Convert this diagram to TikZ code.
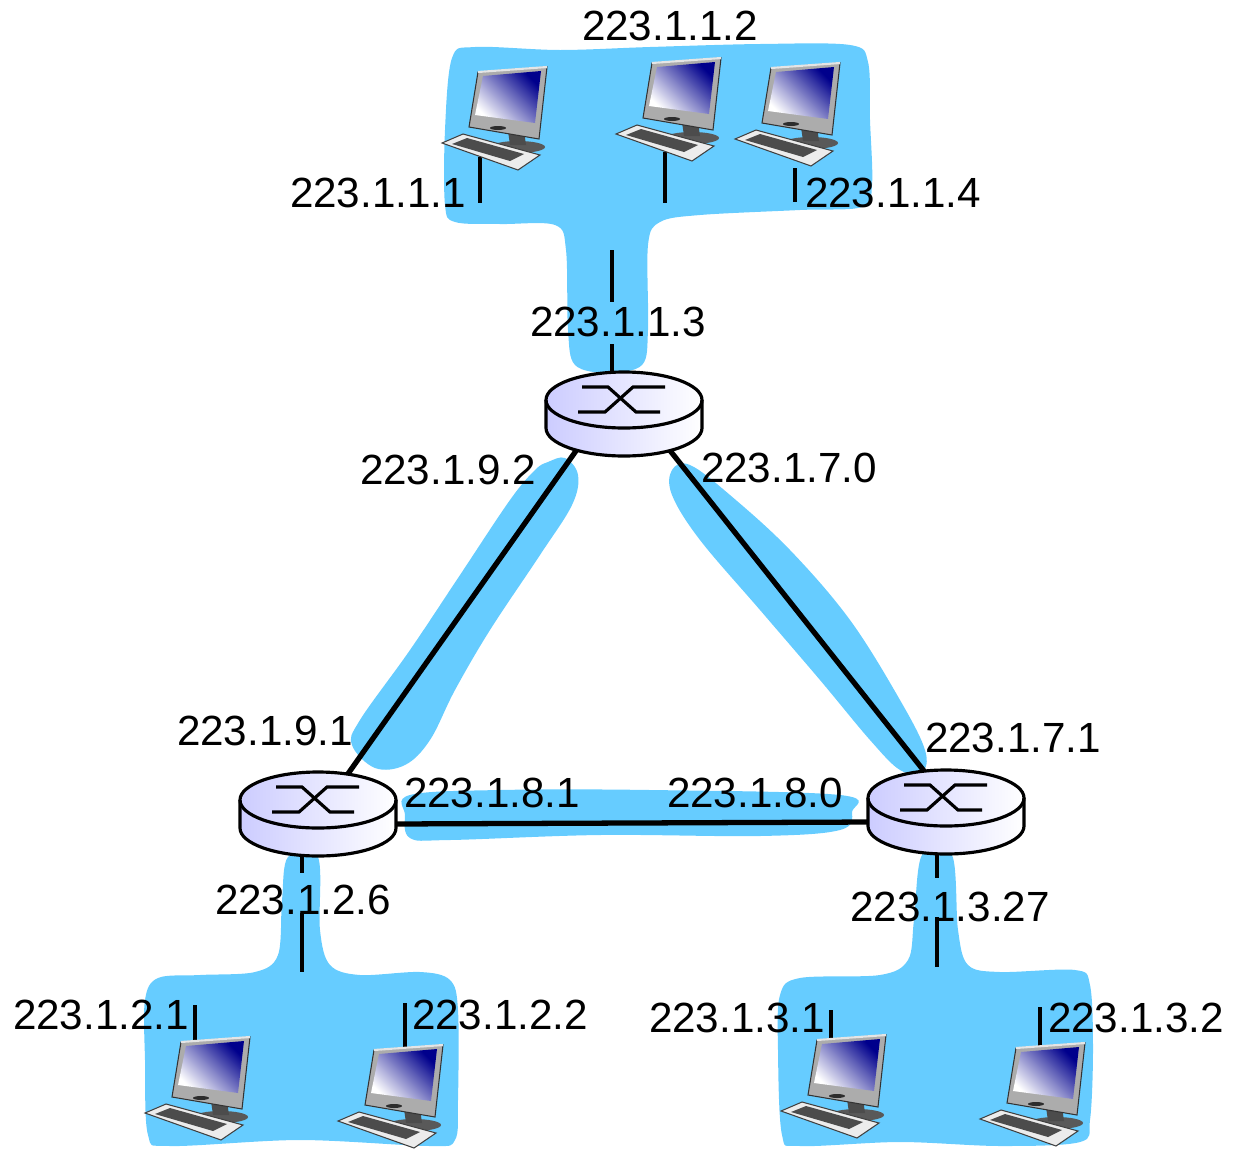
\documentclass[tikz,border=0pt]{standalone}
\usepackage{fontspec}
\setmainfont{Liberation Sans}
\usetikzlibrary{calc}
\definecolor{lanblue}{RGB}{102,204,255}
\tikzset{
  lan/.style={fill=lanblue, draw=none},
  addr/.style={font=\fontsize{12}{14}\selectfont, inner sep=0pt},
  link/.style={line width=1.5pt},
  stub/.style={line width=1pt},
  pc/.pic={
    \fill[gray!70!black] (78,82) ellipse[x radius=27, y radius=6];
    \fill[gray!60!black] (68,66) -- (84,66) -- (86,80) -- (70,80) -- cycle;
    \draw[gray!40!black, fill=gray!65, line width=0.3pt] (38,7) -- (107,2) -- (99,74) -- (29,62) -- cycle;
    \draw[gray!20, line width=0.6pt] (38,7) -- (107,2);
    \shade[top color=white, middle color=blue!20!white, bottom color=blue!55!black, shading angle=135] (43,11) -- (101,6) -- (95,58) -- (35,50) -- cycle;
    \fill[gray!35!black] (58,63) ellipse[x radius=8, y radius=2];
    \draw[gray!50!black, fill=gray!15, line width=0.3pt] (2,78) -- (23,69) -- (100,90) -- (78,105) -- cycle;
    \fill[gray!60!black] (12,79) -- (27,73) -- (84,89) -- (70,96) -- cycle;
  },
  router/.pic={
    \shade[left color=blue!20, right color=white] (-78,0) -- (-78,28) arc[start angle=180, end angle=0, x radius=78, y radius=28] -- (78,0) arc[start angle=0, end angle=-180, x radius=78, y radius=28] -- cycle;
    \draw[line width=0.9pt] (-78,0) -- (-78,28) arc[start angle=180, end angle=0, x radius=78, y radius=28] -- (78,0);
    \draw[line width=0.9pt] (0,0) ellipse[x radius=78, y radius=28];
    \draw[line width=0.9pt] (-42,-13) -- (-16,-13) -- (12,12) -- (36,12);
    \draw[line width=0.9pt] (-46,12) -- (-19,12) -- (9,-13) -- (41,-13);
  }
}
\begin{document}
\begin{tikzpicture}[x=0.01cm, y=-0.01cm]
\useasboundingbox (0,0) rectangle (1245,1148);
\fill[lan] plot[smooth cycle, tension=0.55] coordinates {(452,58) (475,47) (560,50) (650,47) (760,44) (850,45) (868,62) (870,120) (872,185) (862,207) (800,210) (700,215) (660,222) (648,245) (648,330) (642,365) (608,373) (575,365) (568,330) (566,250) (555,225) (500,224) (455,222) (445,205) (445,130)};
\fill[lan] plot[smooth cycle, tension=0.55] coordinates {(288,857) (318,857) (320,930) (330,965) (360,975) (420,972) (450,980) (458,1010) (458,1100) (455,1140) (430,1146) (300,1140) (170,1146) (148,1135) (145,1060) (145,1000) (158,978) (200,975) (255,972) (278,955) (282,900)};
\fill[lan] plot[smooth cycle, tension=0.55] coordinates {(922,855) (952,855) (958,930) (968,965) (1000,972) (1075,970) (1090,985) (1093,1050) (1090,1120) (1080,1142) (1000,1146) (900,1142) (800,1146) (782,1135) (778,1050) (780,995) (800,978) (880,975) (908,960) (914,920)};
\fill[lan] plot[smooth cycle, tension=0.6] coordinates {(548,462) (565,458) (578,475) (572,505) (540,555) (490,630) (455,690) (430,740) (405,765) (375,768) (352,745) (360,720) (410,650) (460,575) (510,500) (535,470)};
\fill[lan] plot[smooth cycle, tension=0.6] coordinates {(672,470) (690,465) (730,495) (790,550) (850,620) (900,700) (925,750) (922,772) (900,770) (870,740) (820,680) (760,610) (700,540) (672,495)};
\fill[lan] plot[smooth cycle, tension=0.6] coordinates {(410,795) (500,790) (650,790) (840,795) (852,812) (840,830) (760,836) (600,835) (450,840) (410,838) (405,815)};

\coordinate (r1) at (624,400);
\coordinate (r2) at (318,800);
\coordinate (r3) at (946,798);
\coordinate (r1sw) at (578,448);
\coordinate (r1se) at (668,448);
\coordinate (r2n) at (345,778);
\coordinate (r2e) at (392,824);
\coordinate (r3n) at (928,776);
\coordinate (r3w) at (872,822);
\draw[link] (r1sw) -- (r2n);
\draw[link] (r1se) -- (r3n);
\draw[link] (r2e) -- (r3w);

\draw[stub] (612,250) -- (612,302);
\draw[stub] (612,344) -- (612,380);
\draw[stub] (302,850) -- (302,873);
\draw[stub] (302,913) -- (302,972);
\draw[stub] (937,850) -- (937,878);
\draw[stub] (937,917) -- (937,967);
\draw[stub] (480,157) -- (480,203);
\draw[stub] (665,152) -- (665,203);
\draw[stub] (795,168) -- (795,202);
\draw[stub] (195,1005) -- (195,1042);
\draw[stub] (405,1003) -- (405,1050);
\draw[stub] (831,1010) -- (831,1042);
\draw[stub] (1040,1007) -- (1040,1048);

\pic at (r1) {router};
\pic at (r2) {router};
\pic at (r3) {router};

\pic at (440,65) {pc};
\pic at (614,56) {pc};
\pic at (733,61) {pc};
\pic at (143,1035) {pc};
\pic at (336,1043) {pc};
\pic at (779,1033) {pc};
\pic at (978,1041) {pc};

\node[addr] (a112) at (670,26) {223.1.1.2};
\node[addr] (a111) at (378,193) {223.1.1.1};
\node[addr] (a114) at (893,193) {223.1.1.4};
\node[addr] (a113) at (618,322) {223.1.1.3};
\node[addr] (a192) at (448,470) {223.1.9.2};
\node[addr] (a170) at (789,468) {223.1.7.0};
\node[addr] (a191) at (265,731) {223.1.9.1};
\node[addr] (a171) at (1013,738) {223.1.7.1};
\node[addr] (a181) at (492,793) {223.1.8.1};
\node[addr] (a180) at (755,793) {223.1.8.0};
\node[addr] (a126) at (303,900) {223.1.2.6};
\node[addr] (a1327) at (950,907) {223.1.3.27};
\node[addr] (a121) at (101,1015) {223.1.2.1};
\node[addr] (a122) at (500,1015) {223.1.2.2};
\node[addr] (a131) at (737,1018) {223.1.3.1};
\node[addr] (a132) at (1136,1018) {223.1.3.2};
\end{tikzpicture}
\end{document}
